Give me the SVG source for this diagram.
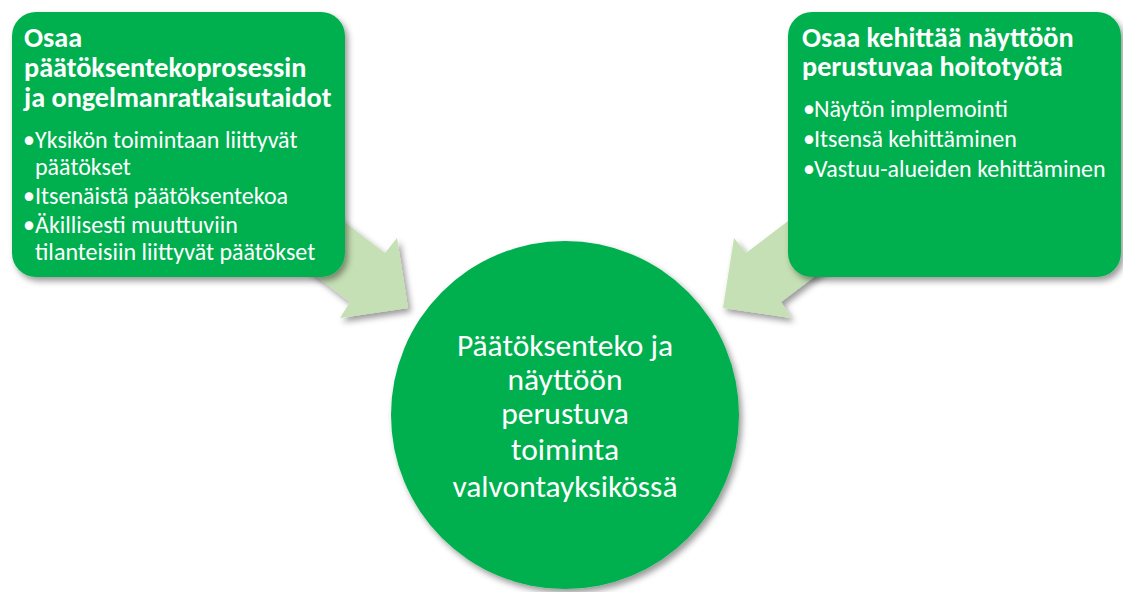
<svg xmlns="http://www.w3.org/2000/svg" width="1123" height="592" viewBox="0 0 1123 592">
  <defs>
    <filter id="shadow" x="-10%" y="-10%" width="125%" height="125%">
      <feDropShadow dx="3" dy="4" stdDeviation="3" flood-color="#000" flood-opacity="0.4"/>
    </filter>
    <style>
      .box { fill: #00B050; filter: url(#shadow); }
      .arrow { fill: #C5E0B4; filter: url(#shadow); }
      .title { font-family: "Carlito", "Liberation Sans", Arial, sans-serif; font-weight: bold; font-size: 28.2px; fill: #FFFFFF; }
      .item { font-family: "Carlito", "Liberation Sans", Arial, sans-serif; font-size: 24px; fill: #FFFFFF; }
      .hub { font-family: "Carlito", "Liberation Sans", Arial, sans-serif; font-size: 31.5px; fill: #FFFFFF; text-anchor: middle; }
    </style>
  </defs>
  <rect width="1123" height="592" fill="#FFFFFF"/>

  <!-- block arrows pointing into the centre circle -->
  <g id="connectors">
    <polygon class="arrow" points="289,180 385,253 397,238 408,308 340,318 350,302 254,229"/>
    <polygon class="arrow" points="842,180 746,253 734,238 723,308 791,318 781,302 877,229"/>
  </g>

  <g id="node-left">
    <rect class="box" x="12" y="12" width="333" height="265" rx="24" ry="24"/>
    <text class="title"><tspan x="24" y="47">Osaa</tspan><tspan x="24" y="77">päätöksentekoprosessin</tspan><tspan x="24" y="107">ja ongelmanratkaisutaidot</tspan></text>
    <text class="item"><tspan x="23" y="148">•</tspan><tspan x="35" y="148">Yksikön toimintaan liittyvät</tspan><tspan x="35" y="175">päätökset</tspan></text>
    <text class="item"><tspan x="23" y="204">•</tspan><tspan x="35" y="204">Itsenäistä päätöksentekoa</tspan></text>
    <text class="item"><tspan x="23" y="233">•</tspan><tspan x="35" y="233">Äkillisesti muuttuviin</tspan><tspan x="35" y="260">tilanteisiin liittyvät päätökset</tspan></text>
  </g>

  <g id="node-right">
    <rect class="box" x="788" y="12" width="333" height="265" rx="24" ry="24"/>
    <text class="title"><tspan x="802" y="47">Osaa kehittää näyttöön</tspan><tspan x="802" y="76">perustuvaa hoitotyötä</tspan></text>
    <text class="item"><tspan x="803" y="117">•</tspan><tspan x="814" y="117">Näytön implemointi</tspan></text>
    <text class="item"><tspan x="803" y="147">•</tspan><tspan x="814" y="147">Itsensä kehittäminen</tspan></text>
    <text class="item"><tspan x="803" y="177">•</tspan><tspan x="814" y="177">Vastuu-alueiden kehittäminen</tspan></text>
  </g>

  <g id="node-center">
    <circle class="box" cx="565" cy="415" r="174"/>
    <text class="hub"><tspan x="565" y="356">Päätöksenteko ja</tspan><tspan x="565" y="390">näyttöön</tspan><tspan x="565" y="424">perustuva</tspan><tspan x="565" y="460">toiminta</tspan><tspan x="565" y="497">valvontayksikössä</tspan></text>
  </g>
</svg>
